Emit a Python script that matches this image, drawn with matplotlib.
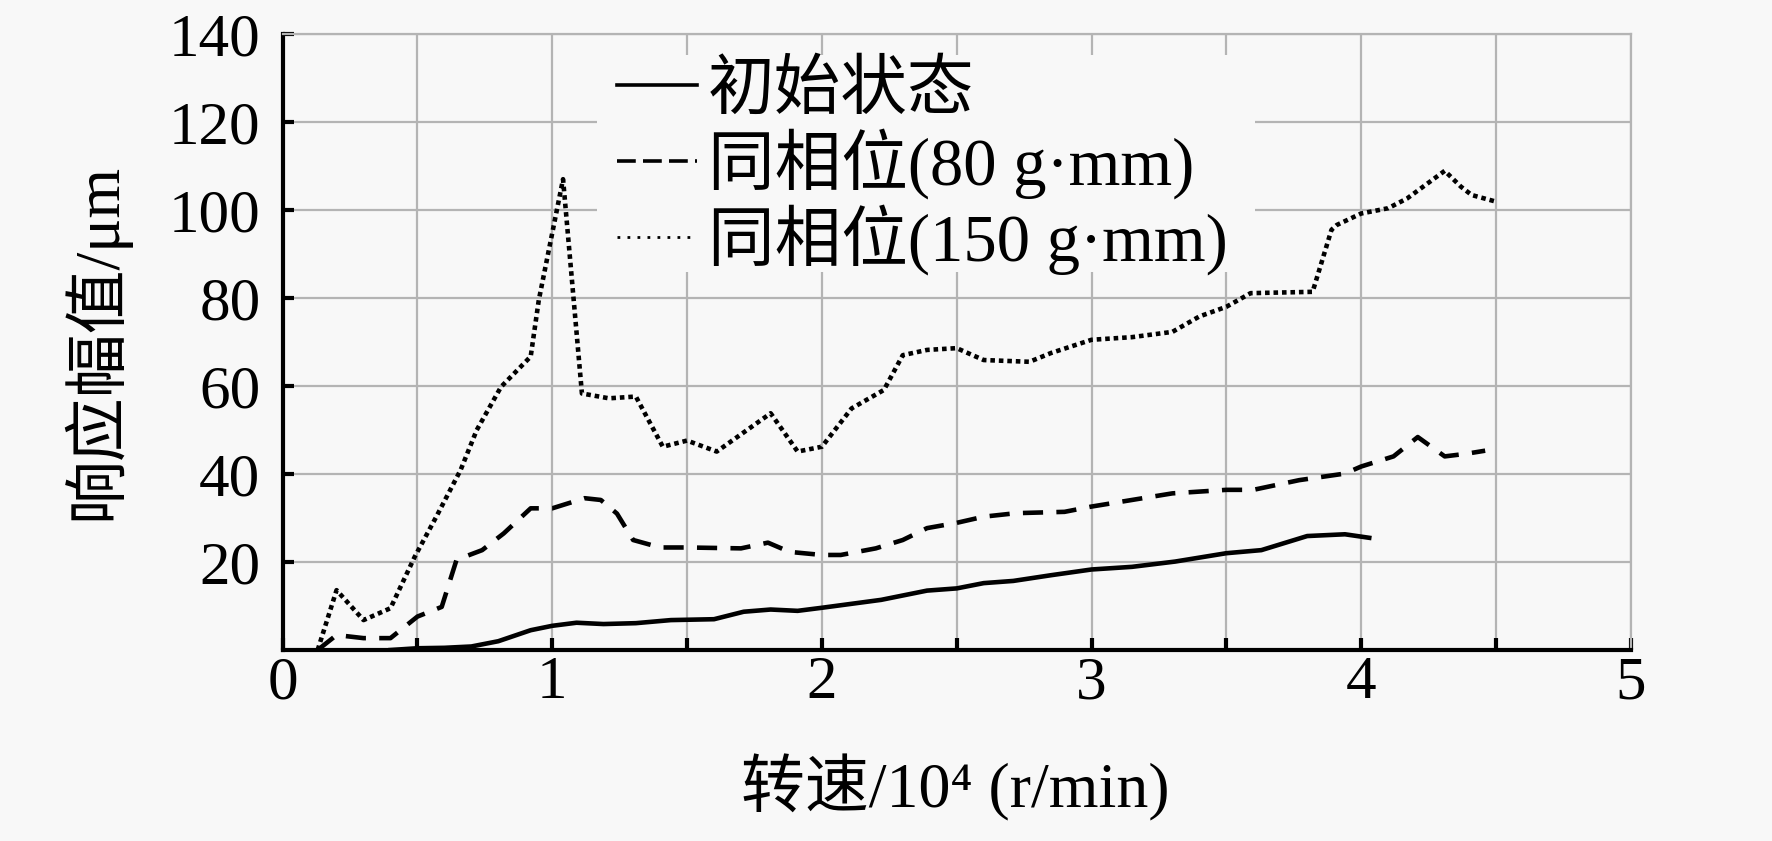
import matplotlib
matplotlib.use("Agg")
import matplotlib.pyplot as plt
from matplotlib.lines import Line2D
from matplotlib.patches import Rectangle
import numpy as np

plt.rcParams['font.family'] = ['Liberation Serif', 'Noto Sans CJK SC', 'DejaVu Sans']

BG = "#f8f8f8"
GRID = "#b4b4b4"

# ---- data ----
x_base = [0.4, 0.5, 0.6, 0.7, 0.8, 0.92, 1.0, 1.09, 1.19, 1.31, 1.44, 1.6, 1.71, 1.81,
          1.91, 2.0, 2.22, 2.39, 2.5, 2.6, 2.71, 2.85, 3.0, 3.15, 3.31, 3.5, 3.63, 3.8,
          3.94, 4.03]
y_base = [0, 0.4, 0.5, 0.8, 2.0, 4.5, 5.5, 6.2, 5.9, 6.1, 6.8, 7.0, 8.7, 9.2,
          8.9, 9.6, 11.4, 13.5, 14.0, 15.2, 15.7, 17.0, 18.3, 18.9, 20.1, 22.0, 22.7, 25.9,
          26.3, 25.5]

x_80 = [0.13, 0.2, 0.3, 0.4, 0.5, 0.59, 0.645, 0.74, 0.82, 0.92, 1.0, 1.12, 1.18, 1.24,
        1.3, 1.4, 1.5, 1.7, 1.8, 1.88, 2.0, 2.07, 2.2, 2.3, 2.39, 2.5, 2.6, 2.72, 2.9,
        3.0, 3.15, 3.3, 3.5, 3.6, 3.77, 3.94, 4.0, 4.12, 4.21, 4.31, 4.39, 4.46]
y_80 = [0, 3.4, 2.7, 2.7, 7.6, 9.8, 20.5, 22.7, 26.5, 32.2, 32.2, 34.5, 34.1, 31.0,
        25.0, 23.3, 23.3, 23.1, 24.4, 22.3, 21.6, 21.6, 23.1, 25.0, 27.7, 28.9, 30.3, 31.1, 31.4,
        32.6, 34.1, 35.6, 36.4, 36.4, 38.6, 40.1, 41.7, 44.0, 48.4, 44.0, 44.6, 45.3]

x_150 = [0.13, 0.2, 0.3, 0.4, 0.49, 0.57, 0.66, 0.72, 0.81, 0.92, 0.95, 1.04, 1.11, 1.21,
         1.31, 1.41, 1.5, 1.61, 1.81, 1.91, 2.0, 2.11, 2.23, 2.3, 2.39, 2.5, 2.6, 2.77,
         2.85, 2.9, 3.0, 3.15, 3.3, 3.4, 3.5, 3.59, 3.82, 3.89, 3.91, 4.0, 4.1, 4.17,
         4.31, 4.37, 4.41, 4.5]
y_150 = [0, 13.6, 6.8, 9.5, 21.2, 30.3, 40.9, 50.0, 59.8, 66.7, 79.5, 107.0, 58.3, 57.2,
         57.6, 46.2, 47.6, 45.1, 53.8, 45.1, 46.2, 54.9, 59.1, 67.0, 68.2, 68.6, 65.9, 65.5,
         67.5, 68.5, 70.5, 71.1, 72.3, 75.8, 78.0, 81.1, 81.4, 95.5, 96.6, 99.2, 100.4, 102.6,
         108.9, 105.3, 103.4, 101.9]

labels = ["初始状态", "同相位(80 g·mm)", "同相位(150 g·mm)"]
x_ticks = [0, 0.5, 1, 1.5, 2, 2.5, 3, 3.5, 4, 4.5, 5]
x_ticklabels = ["0", "", "1", "", "2", "", "3", "", "4", "", "5"]
y_ticks = [20, 40, 60, 80, 100, 120, 140]

fig = plt.figure(figsize=(17.72, 8.41), dpi=100, facecolor=BG)
ax = fig.add_axes([0.1595, 0.2271, 0.7608, 0.7325], facecolor=BG)

lw = 3.3
ax.plot(x_base, y_base, color="black", lw=lw, solid_joinstyle="round", zorder=3)
ax.plot(x_80, y_80, color="black", lw=lw, linestyle=(0, (4.4, 2.9)), zorder=3)
ax.plot(x_150, y_150, color="black", lw=lw, linestyle=(0, (1, 0.85)), zorder=3)

ax.set_xlim(0, 5)
ax.set_ylim(0, 140)
ax.set_xticks(x_ticks)
ax.set_xticklabels(x_ticklabels)
ax.set_yticks(y_ticks)
ax.grid(True, color=GRID, lw=1.6, zorder=0)
ax.set_axisbelow(True)

for side in ("left", "bottom"):
    ax.spines[side].set_linewidth(3)
    ax.spines[side].set_color("black")
for side in ("top", "right"):
    ax.spines[side].set_linewidth(1.6)
    ax.spines[side].set_color(GRID)

ax.tick_params(axis="x", direction="in", length=9, width=3, labelsize=44, pad=4)
ax.tick_params(axis="y", direction="in", length=8, width=3, labelsize=44, pad=16)

# plain box behind the legend that hides the grid
ax.add_patch(Rectangle((597 / 1772, 1 - 272 / 841), 658 / 1772, 217 / 841,
                       transform=fig.transFigure, facecolor=BG, edgecolor="none", zorder=1))

handles = [
    Line2D([], [], color="black", lw=2.6),
    Line2D([], [], color="black", lw=2.6, linestyle=(0, (5.2, 2))),
    Line2D([], [], color="black", lw=2.0, linestyle=(0, (1, 2.6))),
]
leg = ax.legend(handles, labels, loc="upper left",
                bbox_to_anchor=(597 / 1772, 1 - 41 / 841), bbox_transform=fig.transFigure,
                fontsize=48, frameon=False, borderpad=0.3, borderaxespad=0,
                handlelength=1.2, handletextpad=0.16, labelspacing=0.08)
leg.set_zorder(4)

fig.text(95 / 1772, 1 - 341 / 841, "响应幅值/μm", rotation=90, ha="center", va="center",
         fontsize=46)
fig.text(955 / 1772, 1 - 788 / 841, "转速/10⁴ (r/min)", ha="center", va="center",
         fontsize=46)

fig.savefig("out.png", dpi=100, facecolor=BG)
